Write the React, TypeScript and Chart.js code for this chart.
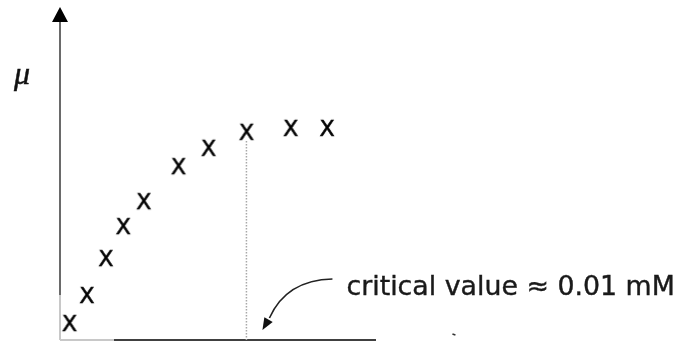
import React, { useEffect, useRef } from "react";
import { Chart, registerables } from "chart.js";

Chart.register(...registerables);

// Surface concentration (arbitrary units) and the measured quantity μ
const X_VALUES = [0.3, 0.85, 1.45, 2.0, 2.65, 3.75, 4.7, 5.9, 7.3, 8.45];
const MU_VALUES = [0.51, 1.35, 2.46, 3.42, 4.17, 5.22, 5.77, 6.25, 6.37, 6.37];
const CRITICAL_X = 5.9;
const CRITICAL_INDEX = 7;
const X_MAX = 10;
const Y_MAX = 10;
const Y_LABEL = "μ";
const ANNOTATION = "critical value ≈ 0.01 mM";
const TEXT_FONT = '"DejaVu Sans", Verdana, sans-serif';

// Marker: a plain letter "X", drawn once to a small canvas
function makeMarker(): HTMLCanvasElement {
  const c = document.createElement("canvas");
  c.width = 24;
  c.height = 24;
  const g = c.getContext("2d")!;
  g.font = `22px ${TEXT_FONT}`;
  g.fillStyle = "#000";
  g.strokeStyle = "#000";
  g.lineWidth = 0.6;
  const m = g.measureText("X");
  const w = m.actualBoundingBoxLeft + m.actualBoundingBoxRight;
  const h = m.actualBoundingBoxAscent + m.actualBoundingBoxDescent;
  const tx = (24 - w) / 2 + m.actualBoundingBoxLeft;
  const ty = (24 - h) / 2 + m.actualBoundingBoxAscent;
  g.fillText("X", tx, ty);
  g.strokeText("X", tx, ty);
  return c;
}

function seg(ctx: CanvasRenderingContext2D, x1: number, y1: number, x2: number, y2: number) {
  ctx.beginPath();
  ctx.moveTo(x1, y1);
  ctx.lineTo(x2, y2);
  ctx.stroke();
}

const schematic = {
  id: "schematic",
  beforeDatasetsDraw(chart: any) {
    const { ctx, scales } = chart;
    const x = scales.x;
    const y = scales.y;
    const x0 = x.getPixelForValue(0);
    const y0 = y.getPixelForValue(0);
    const xEnd = x.getPixelForValue(X_MAX);
    const yTop = y.getPixelForValue(Y_MAX);
    ctx.save();
    ctx.lineWidth = 2;

    // vertical axis
    ctx.strokeStyle = "#6a6a6a";
    seg(ctx, x0, yTop + 12, x0, y0 - 45);
    ctx.strokeStyle = "#c8c8c8";
    seg(ctx, x0, y0 - 45, x0, y0);

    // horizontal axis
    seg(ctx, x0, y0, x0 + 54, y0);
    ctx.strokeStyle = "#404040";
    seg(ctx, x0 + 54, y0, xEnd, y0);

    // arrowhead on the vertical axis
    ctx.fillStyle = "#000";
    ctx.beginPath();
    ctx.moveTo(x0, yTop);
    ctx.lineTo(x0 - 8, yTop + 15);
    ctx.lineTo(x0 + 8, yTop + 15);
    ctx.closePath();
    ctx.fill();

    // dotted line down from the critical point
    const cx = x.getPixelForValue(CRITICAL_X);
    const cy = y.getPixelForValue(MU_VALUES[CRITICAL_INDEX]) + 9;
    ctx.strokeStyle = "#a8a8a8";
    ctx.lineWidth = 1.5;
    ctx.setLineDash([1.5, 1.5]);
    seg(ctx, cx, cy, cx, y0);
    ctx.setLineDash([]);

    // small stray mark below the baseline
    ctx.strokeStyle = "#333";
    ctx.lineWidth = 1.5;
    seg(ctx, cx + 206, y0 - 6, cx + 209, y0 - 5);
    ctx.restore();
  },
  afterDatasetsDraw(chart: any) {
    const { ctx, scales } = chart;
    const x = scales.x;
    const y = scales.y;
    const x0 = x.getPixelForValue(0);
    const y0 = y.getPixelForValue(0);
    const cx = x.getPixelForValue(CRITICAL_X);
    ctx.save();

    // axis label
    ctx.fillStyle = "#111";
    ctx.strokeStyle = "#111";
    ctx.lineWidth = 0.5;
    ctx.font = 'italic 32px "Liberation Serif", "DejaVu Serif", serif';
    ctx.textAlign = "center";
    ctx.textBaseline = "alphabetic";
    ctx.fillText(Y_LABEL, x0 - 38, 84);
    ctx.strokeText(Y_LABEL, x0 - 38, 84);

    // annotation text
    ctx.font = `26.8px ${TEXT_FONT}`;
    ctx.textAlign = "left";
    ctx.fillStyle = "#1a1a1a";
    ctx.strokeStyle = "#1a1a1a";
    ctx.lineWidth = 0.4;
    ctx.fillText(ANNOTATION, cx + 100, y0 - 45);
    ctx.strokeText(ANNOTATION, cx + 100, y0 - 45);

    // curved pointer to the critical value
    const tipX = cx + 16;
    const tipY = y0 - 10;
    ctx.strokeStyle = "#222";
    ctx.lineWidth = 1.6;
    ctx.beginPath();
    ctx.moveTo(cx + 86, y0 - 61);
    ctx.quadraticCurveTo(cx + 40, y0 - 60, tipX + 7, tipY - 12);
    ctx.stroke();
    // arrowhead
    const ang = Math.atan2(12, -7);
    const len = 13;
    const half = 0.38;
    ctx.fillStyle = "#111";
    ctx.beginPath();
    ctx.moveTo(tipX, tipY);
    ctx.lineTo(tipX - len * Math.cos(ang - half), tipY - len * Math.sin(ang - half));
    ctx.lineTo(tipX - len * Math.cos(ang + half), tipY - len * Math.sin(ang + half));
    ctx.closePath();
    ctx.fill();
    ctx.restore();
  },
};

export default function App() {
  const canvasRef = useRef<HTMLCanvasElement | null>(null);

  useEffect(() => {
    document.body.style.margin = "0";
    const marker = makeMarker();
    const chart = new Chart(canvasRef.current!, {
      type: "scatter",
      data: {
        datasets: [
          {
            data: X_VALUES.map((v, i) => ({ x: v, y: MU_VALUES[i] })),
            pointStyle: marker as any,
            pointRadius: 10,
            clip: false as any,
          },
        ],
      },
      options: {
        animation: false,
        responsive: true,
        maintainAspectRatio: false,
        layout: { autoPadding: false, padding: { left: 60, right: 303, top: 7, bottom: 3 } },
        scales: {
          x: { type: "linear", min: 0, max: X_MAX, display: false },
          y: { type: "linear", min: 0, max: Y_MAX, display: false },
        },
        plugins: { legend: { display: false }, tooltip: { enabled: false } },
      },
      plugins: [schematic],
    });
    return () => chart.destroy();
  }, []);

  return (
    <div style={{ position: "absolute", left: 0, top: 0, width: 679, height: 343, background: "#fff" }}>
      <canvas ref={canvasRef} />
    </div>
  );
}
